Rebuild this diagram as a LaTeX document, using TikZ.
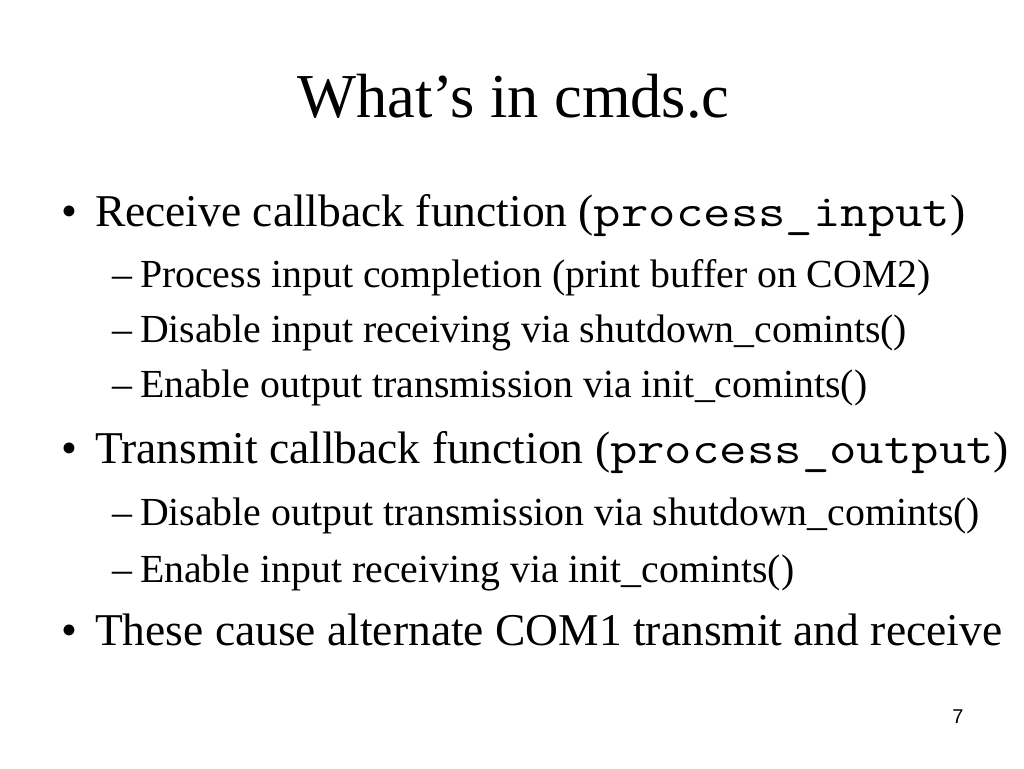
\documentclass[tikz,border=0pt]{standalone}
\usepackage{fontspec}
\setmainfont{Liberation Serif}
\newfontfamily\numfont{Liberation Sans}
\newfontfamily\codefont[FakeStretch=1.17]{Latin Modern Mono}
\newcommand{\codetext}[1]{{\codefont #1}}
\begin{document}
\begin{tikzpicture}[x=1pt,y=-1pt,
  every node/.style={inner sep=0pt,outer sep=0pt},
  titletext/.style={anchor=base,font=\fontsize{62.5}{62.5}\selectfont},
  lvlone/.style={anchor=base west,font=\fontsize{45.5}{45.5}\selectfont},
  lvltwo/.style={anchor=base west,font=\fontsize{39.8}{39.8}\selectfont},
  bulletmark/.style={anchor=base west,font=\fontsize{45.5}{45.5}\selectfont},
  dashmark/.style={anchor=base west,font=\fontsize{39.8}{39.8}\selectfont},
  pagenum/.style={anchor=base,font=\fontsize{20}{20}\selectfont\numfont}]
\useasboundingbox[fill=white] (0,0) rectangle (1024,768);
\node[titletext] (title) at (513.5,117) {What’s in cmds.c};
\node[bulletmark] (b1) at (61,226) {•};
\node[lvlone] (t1) at (95,226) {Receive callback function (\codetext{process\_input})};
\node[dashmark] (d11) at (112,287) {–};
\node[lvltwo] (t11) at (140,287) {Process input completion (print buffer on COM2)};
\node[dashmark] (d12) at (112,342) {–};
\node[lvltwo] (t12) at (140,342) {Disable input receiving via shutdown\_comints()};
\node[dashmark] (d13) at (112,397) {–};
\node[lvltwo] (t13) at (140,397) {Enable output transmission via init\_comints()};
\node[bulletmark] (b2) at (61,463) {•};
\node[lvlone] (t2) at (95,463) {Transmit callback function (\codetext{process\_output})};
\node[dashmark] (d21) at (112,525) {–};
\node[lvltwo] (t21) at (140,525) {Disable output transmission via shutdown\_comints()};
\node[dashmark] (d22) at (112,582) {–};
\node[lvltwo] (t22) at (140,582) {Enable input receiving via init\_comints()};
\node[bulletmark] (b3) at (61,645) {•};
\node[lvlone] (t3) at (95,645) {These cause alternate COM1 transmit and receive};
\node[pagenum] (pg) at (958,723) {7};
\end{tikzpicture}
\end{document}
